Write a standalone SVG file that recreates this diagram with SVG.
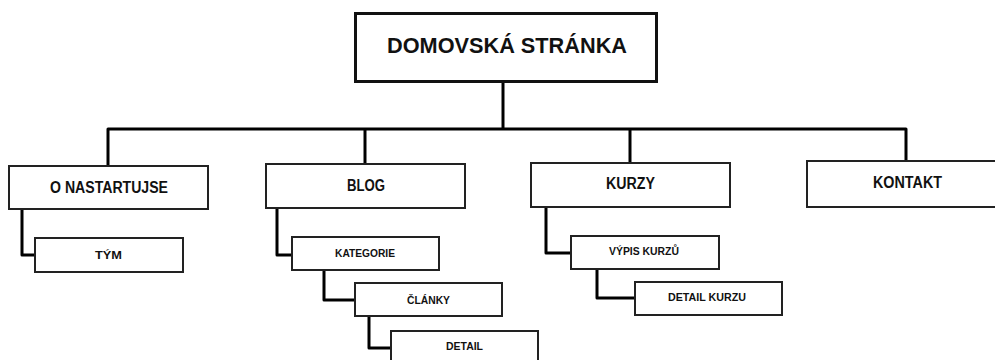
<svg xmlns="http://www.w3.org/2000/svg" width="995" height="360" viewBox="0 0 995 360">
<style>
.box{fill:#fff;stroke:#222;stroke-width:2}
.top{fill:#fff;stroke:#111;stroke-width:3}
.conn{fill:none;stroke:#000;stroke-width:3;stroke-linejoin:round}
text{font-family:"Liberation Sans",Arial,sans-serif;font-weight:bold;fill:#111;text-anchor:middle}
.t0{font-size:22px}
.t1{font-size:16px}
.t2{font-size:11px}
</style>
<rect width="995" height="360" fill="#fff"/>
<g id="connectors">
<path class="conn" d="M503,82 V129"/>
<path class="conn" d="M108,166 V129 H906 V161"/>
<path class="conn" d="M365,129 V164"/>
<path class="conn" d="M630,129 V163"/>
<path class="conn" d="M22,209 V255 H35"/>
<path class="conn" d="M277,208 V255 H292"/>
<path class="conn" d="M324,270 V300 H355"/>
<path class="conn" d="M369,316 V348 H391"/>
<path class="conn" d="M546,207 V253 H571"/>
<path class="conn" d="M597,269 V298 H635"/>
</g>
<g id="domovska">
<rect class="top" x="355.5" y="13.5" width="301" height="68"/>
<text class="t0" x="507" y="53" textLength="240" lengthAdjust="spacingAndGlyphs">DOMOVSKÁ STRÁNKA</text>
</g>
<g id="onastartujse">
<rect class="box" x="9" y="166" width="199" height="43"/>
<text class="t1" x="109" y="193" textLength="118" lengthAdjust="spacingAndGlyphs">O NASTARTUJSE</text>
</g>
<g id="tym">
<rect class="box" x="35" y="238" width="148" height="34"/>
<text class="t2" x="108.5" y="259" textLength="27" lengthAdjust="spacingAndGlyphs">TÝM</text>
</g>
<g id="blog">
<rect class="box" x="266" y="164" width="199" height="44"/>
<text class="t1" x="366" y="191" textLength="38" lengthAdjust="spacingAndGlyphs">BLOG</text>
</g>
<g id="kategorie">
<rect class="box" x="292" y="237" width="147" height="33"/>
<text class="t2" x="365" y="257" textLength="60" lengthAdjust="spacingAndGlyphs">KATEGORIE</text>
</g>
<g id="clanky">
<rect class="box" x="355" y="283" width="147" height="33"/>
<text class="t2" x="428.5" y="303.5" textLength="43" lengthAdjust="spacingAndGlyphs">ČLÁNKY</text>
</g>
<g id="detail">
<rect class="box" x="391" y="331" width="147" height="40"/>
<text class="t2" x="464.5" y="350" textLength="37" lengthAdjust="spacingAndGlyphs">DETAIL</text>
</g>
<g id="kurzy">
<rect class="box" x="531" y="163" width="199" height="44"/>
<text class="t1" x="630.5" y="189" textLength="49" lengthAdjust="spacingAndGlyphs">KURZY</text>
</g>
<g id="vypis">
<rect class="box" x="571" y="236" width="148" height="33"/>
<text class="t2" x="644" y="255" textLength="70" lengthAdjust="spacingAndGlyphs">VÝPIS KURZŮ</text>
</g>
<g id="detailkurzu">
<rect class="box" x="635" y="282" width="147" height="33"/>
<text class="t2" x="707" y="301" textLength="78" lengthAdjust="spacingAndGlyphs">DETAIL KURZU</text>
</g>
<g id="kontakt">
<rect class="box" x="807" y="161" width="200" height="46"/>
<text class="t1" x="907.5" y="188" textLength="69" lengthAdjust="spacingAndGlyphs">KONTAKT</text>
</g>
</svg>
